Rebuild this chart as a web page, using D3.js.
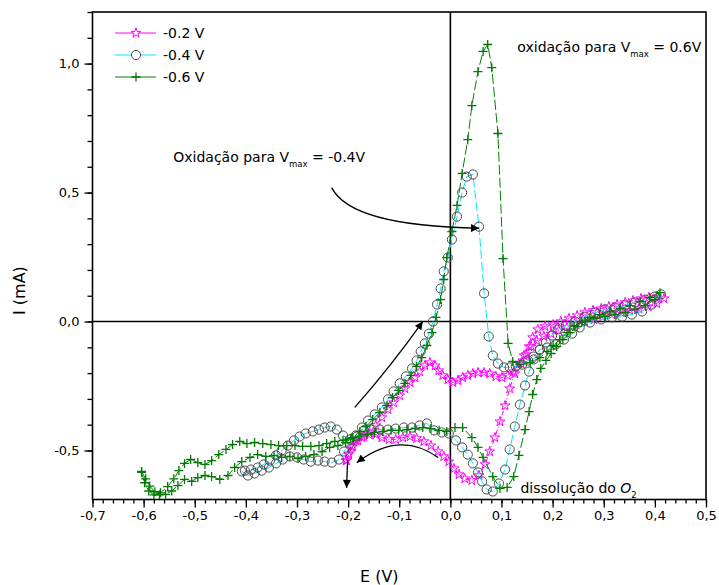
<!DOCTYPE html>
<html><head><meta charset="utf-8">
<script src="https://cdn.jsdelivr.net/npm/d3@7"></script>
<style>body{margin:0;background:#fff}</style></head>
<body><svg id="c" width="719" height="585"></svg>
<script>
// ---------- data ----------
const seriesNames = ["-0.2 V", "-0.4 V", "-0.6 V"];
const xTickValues = [-0.7,-0.6,-0.5,-0.4,-0.3,-0.2,-0.1,0,0.1,0.2,0.3,0.4,0.5];
const xTickLabels = ["-0,7","-0,6","-0,5","-0,4","-0,3","-0,2","-0,1","0,0","0,1","0,2","0,3","0,4","0,5"];
const yTickValues = [-0.5,0,0.5,1.0];
const yTickLabels = ["-0,5","0,0","0,5","1,0"];

// -0.2 V (stars)
const e02 = [-0.204,-0.199,-0.191,-0.181,-0.169,-0.158,-0.146,-0.134,-0.122,-0.111,-0.099,-0.089,-0.079,-0.069,-0.060,-0.050,-0.040,-0.030,-0.023,-0.015,-0.005,0.005,0.015,0.024,0.034,0.044,0.054,0.066,0.077,0.089,0.101,0.112,0.124,0.134,0.144,0.154,0.161,0.171,0.185,0.201,0.216,0.232,0.248,0.263,0.279,0.295,0.310,0.326,0.342,0.357,0.373,0.388,0.404,0.418,
 0.404,0.387,0.369,0.351,0.334,0.316,0.298,0.281,0.263,0.246,0.228,0.212,0.197,0.183,0.169,0.158,0.148,0.138,0.126,0.116,0.107,0.097,0.087,0.077,0.068,0.056,0.042,0.028,0.017,0.007,-0.003,-0.013,-0.024,-0.038,-0.052,-0.066,-0.079,-0.093,-0.107,-0.120,-0.134,-0.146,-0.159,-0.173,-0.185,-0.193,-0.199,-0.203];
const i02 = [-0.539,-0.512,-0.484,-0.461,-0.446,-0.430,-0.403,-0.372,-0.341,-0.314,-0.287,-0.260,-0.236,-0.217,-0.194,-0.171,-0.159,-0.171,-0.190,-0.209,-0.225,-0.236,-0.229,-0.217,-0.209,-0.202,-0.198,-0.198,-0.202,-0.213,-0.217,-0.209,-0.194,-0.163,-0.132,-0.097,-0.062,-0.031,-0.019,-0.012,0.000,0.012,0.023,0.035,0.043,0.050,0.058,0.066,0.074,0.081,0.089,0.093,0.097,0.089,
 0.070,0.058,0.050,0.043,0.035,0.027,0.019,0.008,0.000,-0.012,-0.023,-0.035,-0.047,-0.058,-0.074,-0.097,-0.128,-0.163,-0.202,-0.260,-0.326,-0.388,-0.450,-0.504,-0.554,-0.597,-0.616,-0.609,-0.593,-0.570,-0.543,-0.523,-0.504,-0.481,-0.465,-0.453,-0.446,-0.450,-0.457,-0.457,-0.450,-0.438,-0.438,-0.450,-0.461,-0.488,-0.516,-0.539];

// -0.4 V (circles)
const e04 = [-0.408,-0.396,-0.383,-0.369,-0.355,-0.341,-0.328,-0.314,-0.300,-0.287,-0.273,-0.259,-0.246,-0.232,-0.218,-0.208,-0.197,-0.185,-0.173,-0.161,-0.148,-0.134,-0.122,-0.111,-0.099,-0.087,-0.075,-0.066,-0.058,-0.050,-0.042,-0.034,-0.026,-0.019,-0.013,-0.005,0.003,0.013,0.023,0.032,0.044,0.056,0.066,0.075,0.083,0.093,0.105,0.116,0.128,0.140,0.152,0.163,0.175,0.187,0.199,0.210,0.226,0.244,0.263,0.283,0.302,0.322,0.342,0.361,0.381,0.400,0.412,
 0.394,0.375,0.355,0.336,0.316,0.295,0.273,0.253,0.238,0.222,0.206,0.189,0.175,0.163,0.154,0.146,0.136,0.126,0.116,0.107,0.095,0.083,0.071,0.062,0.054,0.044,0.034,0.023,0.011,-0.003,-0.017,-0.032,-0.046,-0.060,-0.075,-0.091,-0.107,-0.122,-0.138,-0.154,-0.169,-0.183,-0.197,-0.210,-0.222,-0.234,-0.246,-0.257,-0.269,-0.283,-0.295,-0.306,-0.318,-0.330,-0.341,-0.353,-0.365,-0.377,-0.390,-0.402];
const i04 = [-0.581,-0.597,-0.589,-0.578,-0.566,-0.550,-0.535,-0.523,-0.527,-0.535,-0.543,-0.539,-0.543,-0.547,-0.535,-0.504,-0.473,-0.442,-0.411,-0.384,-0.360,-0.333,-0.302,-0.271,-0.240,-0.213,-0.182,-0.151,-0.116,-0.085,-0.047,0.000,0.066,0.128,0.194,0.248,0.318,0.407,0.500,0.562,0.570,0.368,0.109,-0.058,-0.132,-0.163,-0.178,-0.178,-0.174,-0.167,-0.151,-0.136,-0.109,-0.081,-0.054,-0.031,-0.016,0.000,0.019,0.035,0.047,0.054,0.062,0.074,0.085,0.097,0.105,
 0.066,0.039,0.027,0.019,0.016,0.008,-0.004,-0.023,-0.047,-0.070,-0.089,-0.101,-0.109,-0.147,-0.194,-0.248,-0.322,-0.407,-0.496,-0.574,-0.628,-0.659,-0.651,-0.620,-0.585,-0.550,-0.516,-0.488,-0.461,-0.434,-0.430,-0.422,-0.395,-0.403,-0.411,-0.411,-0.415,-0.419,-0.419,-0.419,-0.422,-0.446,-0.457,-0.442,-0.419,-0.407,-0.411,-0.419,-0.426,-0.434,-0.446,-0.461,-0.481,-0.500,-0.519,-0.539,-0.554,-0.566,-0.574,-0.578];

// -0.6 V (crosses)
const e06 = [-0.604,-0.596,-0.588,-0.578,-0.569,-0.557,-0.545,-0.533,-0.520,-0.506,-0.494,-0.480,-0.467,-0.451,-0.435,-0.422,-0.408,-0.392,-0.377,-0.361,-0.345,-0.330,-0.314,-0.298,-0.283,-0.267,-0.251,-0.236,-0.220,-0.205,-0.191,-0.177,-0.165,-0.152,-0.138,-0.124,-0.113,-0.101,-0.089,-0.077,-0.066,-0.056,-0.046,-0.036,-0.028,-0.019,-0.013,-0.007,0.003,0.013,0.023,0.034,0.042,0.054,0.064,0.073,0.081,0.093,0.103,0.113,0.122,0.136,0.156,0.175,0.189,0.201,0.214,0.228,0.242,0.257,0.273,0.292,0.312,0.332,0.351,0.371,0.390,0.410,
 0.400,0.381,0.361,0.342,0.322,0.302,0.283,0.263,0.248,0.234,0.220,0.208,0.197,0.187,0.177,0.169,0.161,0.154,0.146,0.134,0.124,0.111,0.097,0.083,0.064,0.054,0.042,0.024,0.009,-0.007,-0.022,-0.038,-0.054,-0.069,-0.085,-0.101,-0.116,-0.132,-0.148,-0.163,-0.179,-0.195,-0.210,-0.226,-0.242,-0.257,-0.273,-0.289,-0.304,-0.320,-0.336,-0.351,-0.367,-0.383,-0.398,-0.412,-0.426,-0.439,-0.453,-0.467,-0.480,-0.494,-0.508,-0.520,-0.531,-0.541,-0.553,-0.567,-0.580,-0.590,-0.598,-0.604];
const i06 = [-0.581,-0.610,-0.638,-0.660,-0.672,-0.670,-0.657,-0.636,-0.612,-0.620,-0.605,-0.597,-0.601,-0.612,-0.597,-0.566,-0.543,-0.527,-0.516,-0.523,-0.519,-0.527,-0.523,-0.531,-0.523,-0.516,-0.504,-0.488,-0.481,-0.469,-0.450,-0.426,-0.407,-0.380,-0.353,-0.326,-0.295,-0.267,-0.240,-0.209,-0.174,-0.140,-0.093,-0.043,0.016,0.085,0.163,0.248,0.349,0.450,0.574,0.705,0.837,0.969,1.047,1.074,0.984,0.729,0.244,-0.085,-0.155,-0.167,-0.159,-0.140,-0.116,-0.093,-0.070,-0.043,-0.019,0.000,0.016,0.027,0.039,0.050,0.062,0.078,0.093,0.112,
 0.085,0.062,0.047,0.035,0.027,0.019,0.012,0.000,-0.019,-0.043,-0.070,-0.097,-0.124,-0.151,-0.182,-0.225,-0.283,-0.349,-0.419,-0.519,-0.601,-0.643,-0.647,-0.601,-0.527,-0.488,-0.450,-0.411,-0.411,-0.426,-0.422,-0.415,-0.411,-0.415,-0.419,-0.422,-0.422,-0.426,-0.430,-0.438,-0.446,-0.453,-0.461,-0.465,-0.473,-0.481,-0.484,-0.484,-0.481,-0.481,-0.481,-0.477,-0.473,-0.469,-0.473,-0.465,-0.477,-0.496,-0.516,-0.539,-0.554,-0.547,-0.535,-0.550,-0.578,-0.610,-0.640,-0.664,-0.672,-0.657,-0.625,-0.585];

// ---------- drawing ----------
const svg = d3.select("#c");
svg.append("rect").attr("width",719).attr("height",585).attr("fill","#fff");
const X0 = -0.7, X1 = 0.5, Y0 = -0.69, Y1 = 1.2;
const x = d3.scaleLinear().domain([X0, X1]).range([92.5, 706]);
const y = d3.scaleLinear().domain([Y0, Y1]).range([499.5, 12]);
const FONT = "DejaVu Sans, Verdana, sans-serif";

const defs = svg.append("defs");
defs.append("clipPath").attr("id","clip").append("rect")
  .attr("x",x(X0)).attr("y",y(Y1)).attr("width",x(X1)-x(X0)).attr("height",y(Y0)-y(Y1));
defs.append("marker").attr("id","ah").attr("viewBox","0 0 10 10").attr("refX",10).attr("refY",5)
  .attr("markerUnits","userSpaceOnUse").attr("markerWidth",12).attr("markerHeight",8).attr("orient","auto")
  .append("path").attr("d","M0,0L10,5L0,10z").attr("fill","#000");

// axes (minor then major)
const xMinor = d3.range(-0.7, 0.5001, 0.02);
const yMinor = d3.range(-0.6, 1.2001, 0.1);
svg.append("g").attr("transform",`translate(0,${y(Y0)})`)
  .call(d3.axisBottom(x).tickValues(xMinor).tickFormat("").tickSize(4).tickSizeOuter(0))
  .call(g=>g.select(".domain").remove());
svg.append("g").attr("transform",`translate(${x(X0)},0)`)
  .call(d3.axisLeft(y).tickValues(yMinor).tickFormat("").tickSize(5).tickSizeOuter(0))
  .call(g=>g.select(".domain").remove());
const xAx = svg.append("g").attr("transform",`translate(0,${y(Y0)})`)
  .call(d3.axisBottom(x).tickValues(xTickValues).tickFormat((d,i)=>xTickLabels[i]).tickSize(8).tickSizeOuter(0).tickPadding(3));
xAx.select(".domain").remove();
xAx.selectAll("text").attr("font-family",FONT).attr("font-size",13).attr("fill","#000");
const yAx = svg.append("g").attr("transform",`translate(${x(X0)},0)`)
  .call(d3.axisLeft(y).tickValues(yTickValues).tickFormat((d,i)=>yTickLabels[i]).tickSize(8).tickSizeOuter(0).tickPadding(5));
yAx.select(".domain").remove();
yAx.selectAll("text").attr("font-family",FONT).attr("font-size",13).attr("fill","#000");
svg.selectAll(".tick line").attr("stroke","#000").attr("stroke-width",1.3);

// frame and zero lines
svg.append("rect").attr("x",x(X0)).attr("y",y(Y1)).attr("width",x(X1)-x(X0)).attr("height",y(Y0)-y(Y1))
  .attr("fill","none").attr("stroke","#000").attr("stroke-width",1.6);
svg.append("line").attr("x1",x(0)).attr("x2",x(0)).attr("y1",y(Y1)).attr("y2",y(Y0)).attr("stroke","#000").attr("stroke-width",1.6);
svg.append("line").attr("x1",x(X0)).attr("x2",x(X1)).attr("y1",y(0)).attr("y2",y(0)).attr("stroke","#000").attr("stroke-width",1.6);

// axis titles
svg.append("text").attr("x",(x(X0)+x(X1))/2 - 20).attr("y",582).attr("text-anchor","middle")
  .attr("font-family",FONT).attr("font-size",16).text("E (V)");
svg.append("text").attr("transform",`translate(25,${y(0.12)}) rotate(-90)`).attr("text-anchor","middle")
  .attr("font-family",FONT).attr("font-size",16).text("I (mA)");

// series
const plus = "M-4.5,0H4.5M0,-4.5V4.5";
const star = d3.symbol().type(d3.symbolStar).size(30)();
const circ = d3.symbol().type(d3.symbolCircle).size(66)();
const series = [
  {name:seriesNames[0], e:e02, i:i02, line:"#ff00ff", dash:"5,2,1,2", mk:star, mkStroke:"#ff00ff", sw:1},
  {name:seriesNames[1], e:e04, i:i04, line:"#00e8ff", dash:"9,3", mk:circ, mkStroke:"#4a4a4a", sw:1},
  {name:seriesNames[2], e:e06, i:i06, line:"#008000", dash:"10,3", mk:plus, mkStroke:"#007a00", sw:1.3}
];
const plot = svg.append("g").attr("clip-path","url(#clip)");
const lineGen = d3.line().x(d=>x(d[0])).y(d=>y(d[1]));
series.forEach(s=>{
  const pts = s.e.map((v,k)=>[v, s.i[k]]);
  plot.append("path").attr("d",lineGen(pts)).attr("fill","none").attr("stroke",s.line)
    .attr("stroke-width",1).attr("stroke-dasharray",s.dash);
  plot.append("g").selectAll("path").data(pts).join("path")
    .attr("transform",d=>`translate(${x(d[0])},${y(d[1])})`)
    .attr("d",s.mk).attr("fill","none").attr("stroke",s.mkStroke).attr("stroke-width",s.sw);
});

// legend
const lg = svg.append("g");
series.forEach((s,k)=>{
  const yy = 33 + k*22;
  lg.append("line").attr("x1",115).attr("x2",156).attr("y1",yy).attr("y2",yy).attr("stroke",s.line).attr("stroke-width",1.2);
  lg.append("path").attr("transform",`translate(136,${yy})`).attr("d",s.mk).attr("fill","#fff")
    .attr("stroke",s.mkStroke).attr("stroke-width",s.sw);
  lg.append("text").attr("x",163).attr("y",yy+5).attr("font-family",FONT).attr("font-size",14).text(s.name);
});

// annotations
const AF = "DejaVu Sans, sans-serif";
function label(xv, yv, parts){
  const t = svg.append("text").attr("x",x(xv)).attr("y",y(yv)).attr("font-family",AF).attr("font-size",14);
  parts.forEach(p=>{
    const ts = t.append("tspan").text(p.t);
    if(p.sub){ ts.attr("font-size",8.5).attr("dy",5); }
    if(p.up){ ts.attr("dy",-5); }
    if(p.it){ ts.attr("font-style","italic"); }
  });
}
label(-0.542, 0.62, [{t:"Oxidação para V"},{t:"max",sub:true},{t:" = -0.4V",up:true}]);
label(0.131, 1.045, [{t:"oxidação para V"},{t:"max",sub:true},{t:" = 0.6V",up:true}]);
label(0.137, -0.665, [{t:"dissolução do "},{t:"O",it:true},{t:"2",sub:true}]);

const arrow = (d)=>svg.append("path").attr("d",d).attr("fill","none").attr("stroke","#000")
  .attr("stroke-width",1.3).attr("marker-end","url(#ah)");
arrow(`M${x(-0.232)},${y(0.519)} Q${x(-0.195)},${y(0.37)} ${x(0.056)},${y(0.362)}`);
arrow(`M${x(-0.187)},${y(-0.333)} Q${x(-0.115)},${y(-0.17)} ${x(-0.054)},${y(0.0)}`);
arrow(`M${x(-0.024)},${y(-0.527)} Q${x(-0.099)},${y(-0.42)} ${x(-0.183)},${y(-0.547)}`);
arrow(`M${x(-0.201)},${y(-0.535)} L${x(-0.203)},${y(-0.645)}`);
</script>
</body></html>
